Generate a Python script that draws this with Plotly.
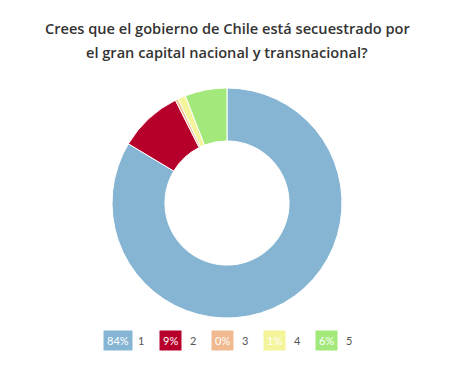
import plotly.graph_objects as go

labels = ["1", "2", "3", "4", "5"]
values = [83.6, 9.0, 0.4, 1.1, 5.9]
colors = ["#86b5d3", "#b6002b", "#f0b990", "#f4f49a", "#a3e87a"]
title_lines = ["Crees que el gobierno de Chile está secuestrado por",
               "el gran capital nacional y transnacional?"]

OFF = 8  # page body margin
W, H = 452 - 2 * OFF, 368 - 2 * OFF


def px(x):
    return (x - OFF) / W


def py(y):
    return 1 - (y - OFF) / H


fig = go.Figure(go.Pie(
    labels=labels, values=values, hole=0.54, sort=False, direction="clockwise",
    rotation=0, marker=dict(colors=colors, line=dict(color="white", width=1)),
    textinfo="none", hoverinfo="label+percent", showlegend=False,
    domain=dict(x=[px(112), px(342)], y=[py(318), py(88)]),
))

total = sum(values)
x0 = 118
for i, (lab, v, c) in enumerate(zip(labels, values, colors)):
    pct = f"{round(100 * v / total)}%"
    xc = x0 + 52 * i
    fig.add_annotation(x=px(xc), y=py(340), xref="paper", yref="paper",
                       text=pct, showarrow=False, bgcolor=c, borderpad=3,
                       font=dict(family="Lato", size=11, color="white"),
                       xanchor="center", yanchor="middle")
    fig.add_annotation(x=px(xc + 18), y=py(340), xref="paper", yref="paper",
                       text=lab, showarrow=False,
                       font=dict(family="Lato", size=11, color="#555"),
                       xanchor="left", yanchor="middle")

for j, line in enumerate(title_lines):
    fig.add_annotation(x=px(227), y=py(28 + 24 * j), xref="paper", yref="paper",
                       text=line, showarrow=False, xanchor="center", yanchor="middle",
                       font=dict(family="Open Sans", size=14.6, color="#333", weight=600))

fig.update_layout(
    width=W, height=H, margin=dict(l=0, r=0, t=0, b=0),
    paper_bgcolor="white", plot_bgcolor="white",
)
fig.write_html("out.html")
